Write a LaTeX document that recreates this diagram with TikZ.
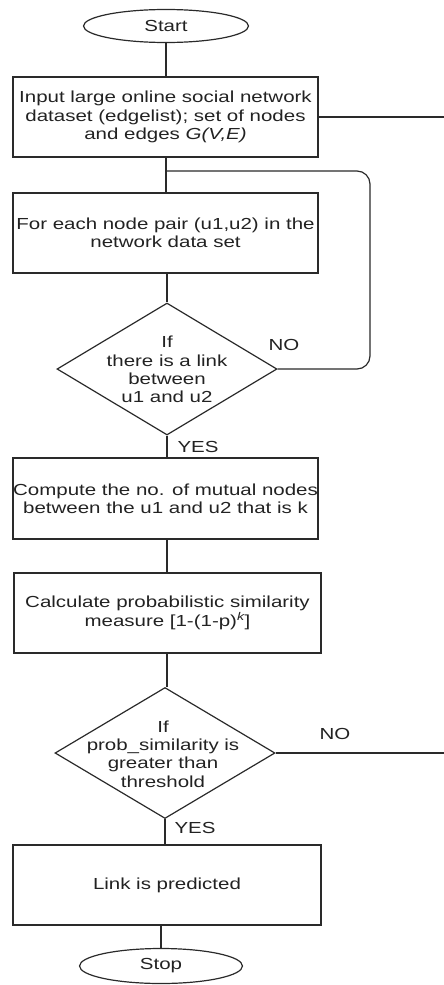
\documentclass[tikz,border=0pt]{standalone}
\usepackage{fontspec}
\setmainfont[FakeStretch=1.28]{Liberation Sans}
\usetikzlibrary{shapes.geometric}
\definecolor{ink}{HTML}{222222}
\definecolor{edge}{HTML}{2A2A2A}
\tikzset{
  base/.style={draw=edge, line width=1.2pt, inner sep=0pt, text=ink,
    font=\fontsize{16}{18.3}\selectfont, align=center},
  procbox/.style={base, rectangle, minimum width=305pt, minimum height=80pt},
  terminal/.style={base, ellipse, minimum width=165pt, minimum height=33pt},
  decision/.style={base, diamond, minimum width=220pt, minimum height=132pt},
  dtext/.style={inner sep=0pt, text=ink, font=\fontsize{16}{18.3}\selectfont, align=center},
  lbl/.style={inner sep=0pt, text=ink, font=\fontsize{16}{18}\selectfont},
  link/.style={draw=edge, line width=1.2pt}
}
\begin{document}
\begin{tikzpicture}[x=1pt, y=-1pt]
\useasboundingbox (0,0) rectangle (444,985);

\node[terminal] (start) at (166,26) {Start};
\node[procbox] (input) at (165.5,117) {Input large online social network\\dataset (edgelist); set of nodes\\and edges \textit{G(V,E)}};
\node[procbox] (pair) at (165.5,233) {For each node pair (u1,u2) in the\\network data set};
\node[decision] (link) at (167,369) {};
\node[dtext] (linktxt) at (167,369.5) {If\\there is a link\\between\\u1 and u2};
\node[procbox, minimum height=81pt] (mutual) at (165.5,498.5) {Compute the no. of mutual nodes\\between the u1 and u2 that is k};
\node[procbox, minimum width=307pt] (prob) at (167.5,613) {Calculate probabilistic similarity\\measure [1-(1-p)\textsuperscript{\itshape k}]};
\node[decision, minimum height=131pt] (thr) at (165,753) {};
\node[dtext] (thrtxt) at (163,754) {If\\prob\_similarity is\\greater than\\threshold};
\node[procbox, minimum width=308pt] (pred) at (167,885) {Link is predicted};
\node[terminal, minimum width=163pt, minimum height=35pt] (stop) at (161,966) {Stop};

\node[lbl] (no1) at (284,345) {NO};
\node[lbl] (yes1) at (198,447) {YES};
\node[lbl] (no2) at (335,734) {NO};
\node[lbl] (yes2) at (195,828) {YES};

\coordinate (outA) at (444,117);
\coordinate (outB) at (444,753);
\coordinate (join) at (166,171);
\coordinate (turn) at (370,0);

\draw[link] (start.south) -- (start.south |- input.north);
\draw[link] (input.east) -- (outA);
\draw[link] (input.south -| join) -- (pair.north -| join);
\draw[link, rounded corners=13pt] (link.east) -- (turn |- link.east) -- (turn |- join) -- (join);
\draw[link] (pair.south -| link.north) -- (link.north);
\draw[link] (link.south) -- (link.south |- mutual.north);
\draw[link] (mutual.south -| link.south) -- (prob.north -| link.south);
\draw[link] (prob.south -| link.south) -- (thr.north -| link.south);
\draw[link] (thr.east) -- (outB);
\draw[link] (thr.south) -- (thr.south |- pred.north);
\draw[link] (pred.south -| stop.north) -- (stop.north);
\end{tikzpicture}
\end{document}
